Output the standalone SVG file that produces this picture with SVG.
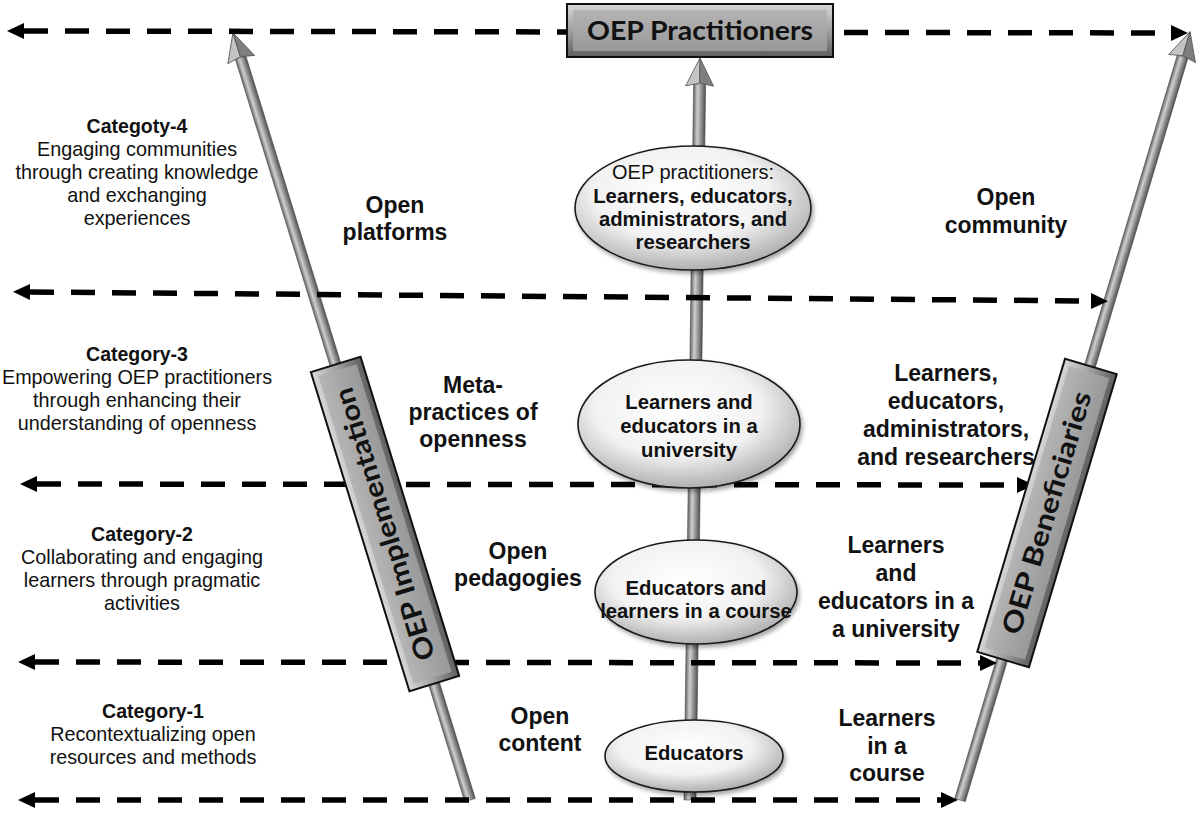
<svg xmlns="http://www.w3.org/2000/svg" width="1200" height="816" viewBox="0 0 1200 816">
<defs>
<style>
.t{font-family:"Liberation Sans",Arial,sans-serif;fill:#111;text-anchor:middle}
.lt{font-size:19.8px}
.lb{font-size:19.5px;font-weight:bold}
.mb{font-size:23px;font-weight:bold}
.ef{font-size:20px}
.eb{font-size:20.3px;font-weight:bold}
.bx{font-family:Lato,"Liberation Sans",sans-serif;font-weight:bold;fill:#111;text-anchor:middle}
.dash{fill:none;stroke:#000;stroke-width:5.5;stroke-dasharray:24 17;marker-start:url(#ah);marker-end:url(#ah)}
.shaft{fill:url(#sg);stroke:#4a4a4a;stroke-width:0.6}
.hl{fill:#c4c4c4;stroke:#555;stroke-width:0.8}
.hr{fill:#7e7e7e;stroke:#555;stroke-width:0.8}
.ell{fill:url(#eg);stroke:#1a1a1a;stroke-width:1.6;filter:url(#sh)}
.bo{fill:url(#bg);stroke:#111;stroke-width:2}
.bi{fill:url(#bi);stroke:none}
</style>
<marker id="ah" viewBox="0 -8 17 16" refX="0" refY="0" markerWidth="17" markerHeight="16" markerUnits="userSpaceOnUse" orient="auto-start-reverse">
<path d="M0,-8 L17,0 L0,8 Z" fill="#000"/>
</marker>
<linearGradient id="sg" x1="0" y1="0" x2="1" y2="0">
<stop offset="0" stop-color="#666"/>
<stop offset="0.35" stop-color="#cfcfcf"/>
<stop offset="1" stop-color="#505050"/>
</linearGradient>
<radialGradient id="eg" cx="0.45" cy="0.38" r="0.62">
<stop offset="0" stop-color="#ffffff"/>
<stop offset="0.6" stop-color="#f2f2f2"/>
<stop offset="1" stop-color="#b0b0b0"/>
</radialGradient>
<linearGradient id="bg" x1="0" y1="0" x2="0" y2="1">
<stop offset="0" stop-color="#d8d8d8"/>
<stop offset="0.5" stop-color="#a0a0a0"/>
<stop offset="1" stop-color="#5e5e5e"/>
</linearGradient>
<linearGradient id="bi" x1="0" y1="0" x2="0" y2="1">
<stop offset="0" stop-color="#b4b4b4"/>
<stop offset="1" stop-color="#999"/>
</linearGradient>
<filter id="sh" x="-10%" y="-10%" width="125%" height="130%">
<feDropShadow dx="2" dy="3" stdDeviation="2" flood-color="#000" flood-opacity="0.35"/>
</filter>
</defs>
<rect width="1200" height="816" fill="#fff"/>

<g id="connectors">
<g id="arrow-left" transform="translate(470,800) rotate(-17.17)">
<rect class="shaft" x="-5.5" y="-777" width="11" height="777"/>
<polygon class="hl" points="0,-803 -14,-775 0,-778"/>
<polygon class="hr" points="0,-803 0,-778 14,-775"/>
</g>
<g id="arrow-right" transform="translate(960,800) rotate(16.67)">
<rect class="shaft" x="-5.5" y="-776" width="11" height="776"/>
<polygon class="hl" points="0,-802 -14,-774 0,-777"/>
<polygon class="hr" points="0,-802 0,-777 14,-774"/>
</g>
<g id="arrow-center" transform="translate(690,800) rotate(0.77)">
<rect class="shaft" x="-6" y="-716" width="12" height="716"/>
<polygon class="hl" points="0,-742 -14,-714 0,-717"/>
<polygon class="hr" points="0,-742 0,-717 14,-714"/>
</g>
<line class="dash" x1="24" y1="31" x2="1171" y2="33"/>
<line class="dash" x1="30" y1="292" x2="1091" y2="301"/>
<line class="dash" x1="37" y1="484" x2="1017" y2="485"/>
<line class="dash" x1="35" y1="662" x2="980" y2="663"/>
<line class="dash" x1="35" y1="800" x2="941" y2="800"/>
</g>

<g id="node-oep-practitioners">
<rect class="bo" x="567" y="4" width="266" height="53"/>
<rect class="bi" x="573" y="10" width="254" height="41"/>
<text class="bx" x="700" y="40" font-size="26" textLength="226" lengthAdjust="spacingAndGlyphs">OEP Practitioners</text>
</g>

<g id="node-oep-implementation" transform="translate(385,524) rotate(-107.17)">
<rect class="bo" x="-167" y="-26" width="334" height="52"/>
<rect class="bi" x="-161" y="-20" width="322" height="40"/>
<text class="bx" x="0" y="9" font-size="27" textLength="284" lengthAdjust="spacingAndGlyphs">OEP Implementation</text>
</g>

<g id="node-oep-beneficiaries" transform="translate(1047,513) rotate(-73.33)">
<rect class="bo" x="-153" y="-27" width="306" height="54"/>
<rect class="bi" x="-147" y="-21" width="294" height="42"/>
<text class="bx" x="0" y="9" font-size="27" textLength="252" lengthAdjust="spacingAndGlyphs">OEP Beneficiaries</text>
</g>

<g id="node-ellipse-1">
<ellipse class="ell" cx="693" cy="208" rx="118" ry="62"/>
<text class="t ef" x="693" y="179">OEP practitioners:</text>
<text class="t eb" x="693" y="203">Learners, educators,</text>
<text class="t eb" x="693" y="226">administrators, and</text>
<text class="t eb" x="693" y="249">researchers</text>
</g>
<g id="node-ellipse-2">
<ellipse class="ell" cx="689" cy="424" rx="111" ry="64"/>
<text class="t eb" x="689" y="409">Learners and</text>
<text class="t eb" x="689" y="433">educators in a</text>
<text class="t eb" x="689" y="457">university</text>
</g>
<g id="node-ellipse-3">
<ellipse class="ell" cx="696" cy="592" rx="101" ry="52"/>
<text class="t eb" x="696" y="595">Educators and</text>
<text class="t eb" x="696" y="618">learners in a course</text>
</g>
<g id="node-ellipse-4">
<ellipse class="ell" cx="694" cy="756" rx="89" ry="36"/>
<text class="t eb" x="694" y="760">Educators</text>
</g>

<g id="node-category-4">
<text class="t lb" x="137" y="133">Categoty-4</text>
<text class="t lt" x="137" y="156">Engaging communities</text>
<text class="t lt" x="137" y="179">through creating knowledge</text>
<text class="t lt" x="137" y="202">and exchanging</text>
<text class="t lt" x="137" y="225">experiences</text>
</g>
<g id="node-category-3">
<text class="t lb" x="137" y="361">Category-3</text>
<text class="t lt" x="137" y="384">Empowering OEP practitioners</text>
<text class="t lt" x="137" y="407">through enhancing their</text>
<text class="t lt" x="137" y="430">understanding of openness</text>
</g>
<g id="node-category-2">
<text class="t lb" x="142" y="541">Category-2</text>
<text class="t lt" x="142" y="564">Collaborating and engaging</text>
<text class="t lt" x="142" y="587">learners through pragmatic</text>
<text class="t lt" x="142" y="610">activities</text>
</g>
<g id="node-category-1">
<text class="t lb" x="153" y="718">Category-1</text>
<text class="t lt" x="153" y="741">Recontextualizing open</text>
<text class="t lt" x="153" y="764">resources and methods</text>
</g>

<g id="node-open-platforms">
<text class="t mb" x="395" y="213">Open</text>
<text class="t mb" x="395" y="240">platforms</text>
</g>
<g id="node-meta-practices">
<text class="t mb" x="473" y="393">Meta-</text>
<text class="t mb" x="473" y="420">practices of</text>
<text class="t mb" x="473" y="447">openness</text>
</g>
<g id="node-open-pedagogies">
<text class="t mb" x="518" y="559">Open</text>
<text class="t mb" x="518" y="586">pedagogies</text>
</g>
<g id="node-open-content">
<text class="t mb" x="540" y="724">Open</text>
<text class="t mb" x="540" y="751">content</text>
</g>

<g id="node-open-community">
<text class="t mb" x="1006" y="205">Open</text>
<text class="t mb" x="1006" y="233">community</text>
</g>
<g id="node-beneficiaries-4">
<text class="t mb" x="946" y="381">Learners,</text>
<text class="t mb" x="946" y="409">educators,</text>
<text class="t mb" x="946" y="437">administrators,</text>
<text class="t mb" x="946" y="465">and researchers</text>
</g>
<g id="node-beneficiaries-3">
<text class="t mb" x="896" y="553">Learners</text>
<text class="t mb" x="896" y="581">and</text>
<text class="t mb" x="896" y="609">educators in a</text>
<text class="t mb" x="896" y="637">a university</text>
</g>
<g id="node-beneficiaries-2">
<text class="t mb" x="887" y="726">Learners</text>
<text class="t mb" x="887" y="754">in a</text>
<text class="t mb" x="887" y="781">course</text>
</g>
</svg>
